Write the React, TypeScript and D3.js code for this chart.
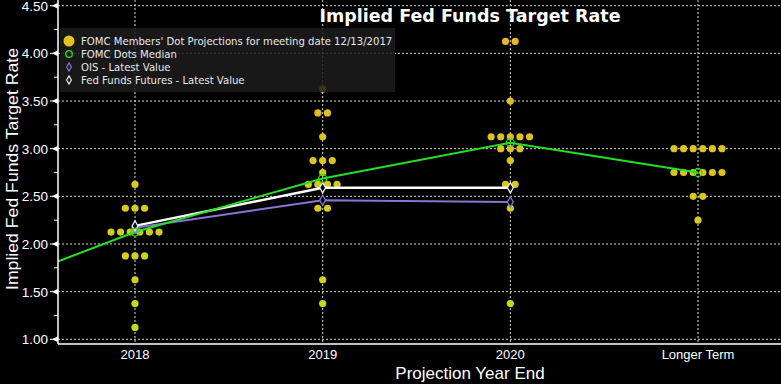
import React from "react";
import * as d3 from "d3";

const W = 781;
const H = 384;
const LEFT = 58;
const BOTTOM = 344;

const categories = ["2018", "2019", "2020", "Longer Term"];

// [rate, number of dots] per projection year
const dots2018 = [[2.625, 1], [2.375, 3], [2.125, 6], [1.875, 3], [1.625, 1], [1.375, 1], [1.125, 1]];
const dots2019 = [[3.625, 1], [3.375, 2], [3.125, 1], [2.875, 3], [2.75, 1], [2.625, 4], [2.375, 2], [1.625, 1], [1.375, 1]];
const dots2020 = [[4.125, 2], [3.5, 1], [3.125, 5], [3.0, 3], [2.875, 1], [2.625, 2], [2.375, 1], [1.375, 1]];
const dotsLonger = [[3.0, 6], [2.75, 6], [2.5, 2], [2.25, 1]];
const allDots = [dots2018, dots2019, dots2020, dotsLonger];

// median runs in from the 2017 point, left of the axis
const medianIdx = [-1, 0, 1, 2, 3];
const medianValues = [1.375, 2.125, 2.6875, 3.0625, 2.75];
const oisValues = [2.17, 2.46, 2.44];
const futuresValues = [2.19, 2.59, 2.59];

const yTicks = [1.0, 1.5, 2.0, 2.5, 3.0, 3.5, 4.0, 4.5];
const yMinor = [1.25, 1.75, 2.25, 2.75, 3.25, 3.75, 4.25];

const sans = "'Liberation Sans', Arial, sans-serif";

export default function App() {
  const x = d3.scaleLinear().domain([0, 3]).range([135, 698]);
  const y = d3.scaleLinear().domain([1, 4.5]).range([339.3, 5.7]);
  const dotColor = d3.scaleLinear<string>().domain([1.1, 4.1]).range(["#c8d818", "#e6b626"]);

  const line = d3
    .line<[number, number]>()
    .x((d) => x(d[0]))
    .y((d) => y(d[1]));

  const medianPts: [number, number][] = medianIdx.map((i, k) => [i, medianValues[k]]);
  const oisPts: [number, number][] = oisValues.map((v, i) => [i, v]);
  const futPts: [number, number][] = futuresValues.map((v, i) => [i, v]);

  const diamond = d3.symbol(d3.symbolDiamond, 30)();

  const dotMarks: JSX.Element[] = [];
  allDots.forEach((rows, ci) => {
    rows.forEach(([v, n]) => {
      for (let j = 0; j < n; j++) {
        dotMarks.push(
          <circle
            key={`${ci}-${v}-${j}`}
            cx={x(ci) + (j - (n - 1) / 2) * 9.6}
            cy={y(v)}
            r={3.6}
            fill={dotColor(v)}
          />
        );
      }
    });
  });

  return (
    <svg
      width={W}
      height={H}
      style={{ position: "absolute", left: 0, top: 0, background: "#000" }}
    >
      <rect x={0} y={0} width={W} height={H} fill="#000" />
      <defs>
        <clipPath id="plot">
          <rect x={LEFT} y={0} width={W - LEFT} height={BOTTOM} />
        </clipPath>
      </defs>

      {/* grid */}
      <g stroke="#d8d8d8" strokeWidth={1} strokeDasharray="2,2">
        {yTicks.map((t) => (
          <line key={t} x1={LEFT} x2={W} y1={y(t)} y2={y(t)} />
        ))}
        {categories.map((c, i) => (
          <line key={c} x1={x(i)} x2={x(i)} y1={0} y2={BOTTOM} />
        ))}
      </g>

      <text
        x={470}
        y={22}
        fill="#fff"
        fontFamily="Verdana, 'DejaVu Sans', sans-serif"
        fontWeight="bold"
        fontSize={17.5}
        textAnchor="middle"
      >
        Implied Fed Funds Target Rate
      </text>

      <g clipPath="url(#plot)">
        {dotMarks}
        <path d={line(oisPts) || ""} fill="none" stroke="#8a74d4" strokeWidth={2} />
        <path d={line(futPts) || ""} fill="none" stroke="#ffffff" strokeWidth={2.5} />
        <path d={line(medianPts) || ""} fill="none" stroke="#22e022" strokeWidth={2} />
        {oisPts.map((p, i) => (
          <path key={i} d={diamond} transform={`translate(${x(p[0])},${y(p[1])})`} fill="#000" stroke="#8a74d4" strokeWidth={1.3} />
        ))}
        {futPts.map((p, i) => (
          <path key={i} d={diamond} transform={`translate(${x(p[0])},${y(p[1])})`} fill="#000" stroke="#e8f0ff" strokeWidth={1.3} />
        ))}
        {medianPts.map((p, i) => (
          <circle key={i} cx={x(p[0])} cy={y(p[1])} r={4} fill="none" stroke="#22e022" strokeWidth={1.3} />
        ))}
      </g>

      {/* legend */}
      <g>
        <rect x={60} y={28} width={335} height={64} fill="#1c1c1c" opacity={0.85} />
        <g fontFamily="Verdana, 'DejaVu Sans', sans-serif" fontSize={10.1} fill="#e8e8e8">
          <circle cx={69} cy={41} r={5.5} fill="#e4c020" />
          <text x={81} y={45}>FOMC Members' Dot Projections for meeting date 12/13/2017</text>
          <circle cx={69} cy={54} r={3.3} fill="none" stroke="#22e022" strokeWidth={1.3} />
          <text x={81} y={58}>FOMC Dots Median</text>
          <path d={diamond} transform="translate(69,67) scale(0.8)" fill="none" stroke="#8a74d4" strokeWidth={1.5} />
          <text x={81} y={71}>OIS - Latest Value</text>
          <path d={diamond} transform="translate(69,80) scale(0.8)" fill="none" stroke="#e8e8e8" strokeWidth={1.5} />
          <text x={81} y={84}>Fed Funds Futures - Latest Value</text>
        </g>
      </g>

      {/* y axis */}
      <line x1={LEFT} x2={LEFT} y1={0} y2={BOTTOM} stroke="#fff" strokeWidth={1.5} />
      {yTicks.map((t) => (
        <g key={t} transform={`translate(0,${y(t)})`}>
          <line x1={50} x2={LEFT} y1={0} y2={0} stroke="#fff" />
          <path d="M52,0 L58,-3 L58,3 Z" fill="#fff" />
          <text x={48} y={5} fill="#fff" fontFamily={sans} fontSize={13.5} textAnchor="end">
            {d3.format(".2f")(t)}
          </text>
        </g>
      ))}
      {yMinor.map((t) => (
        <line key={t} x1={54} x2={LEFT} y1={y(t)} y2={y(t)} stroke="#fff" />
      ))}
      <text
        transform={`translate(18,169) rotate(-90)`}
        fill="#fff"
        fontFamily={sans}
        fontSize={16.5}
        textAnchor="middle"
        textLength={242}
        lengthAdjust="spacingAndGlyphs"
      >
        Implied Fed Funds Target Rate
      </text>

      {/* x axis */}
      <line x1={LEFT} x2={W} y1={BOTTOM} y2={BOTTOM} stroke="#fff" strokeWidth={1.5} />
      {categories.map((c, i) => (
        <text key={c} x={x(i)} y={359} fill="#fff" fontFamily={sans} fontSize={13} textAnchor="middle">
          {c}
        </text>
      ))}
      <text x={470} y={379} fill="#fff" fontFamily={sans} fontSize={17} textAnchor="middle">
        Projection Year End
      </text>
    </svg>
  );
}
